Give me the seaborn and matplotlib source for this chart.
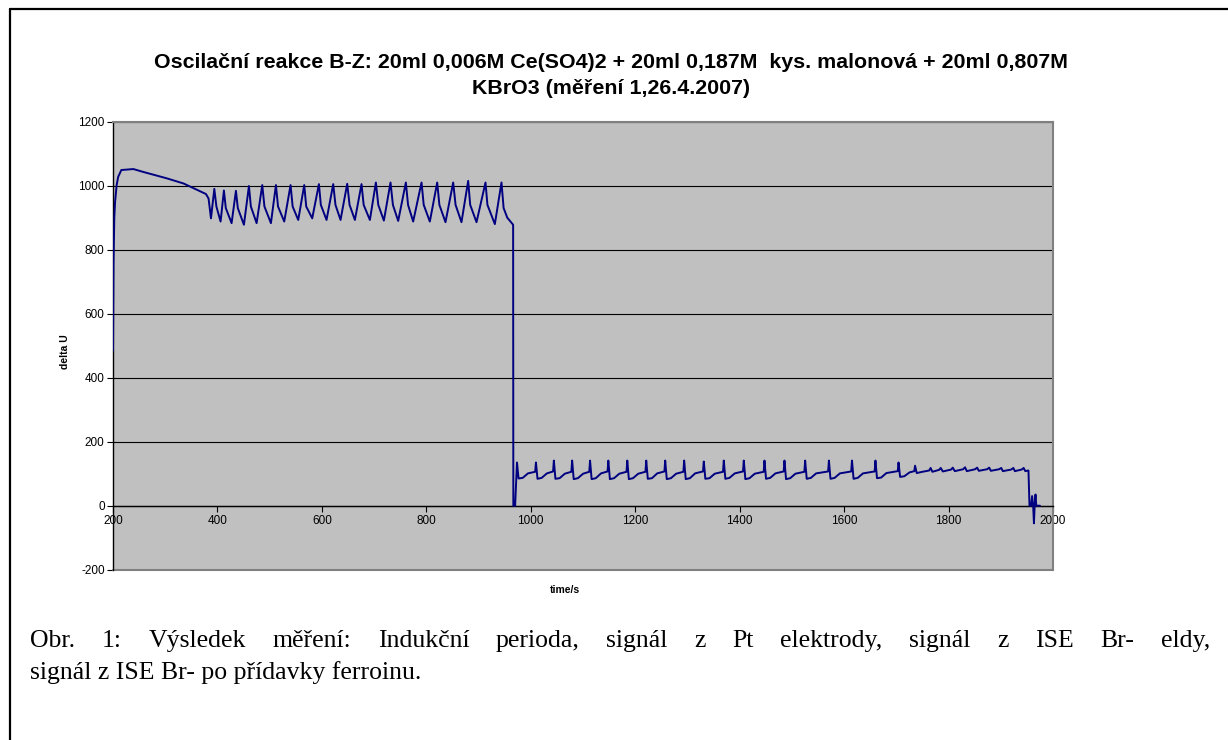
import matplotlib
matplotlib.use("Agg")
import matplotlib.pyplot as plt
import numpy as np
import pandas as pd
import seaborn as sns
from matplotlib.lines import Line2D

# ---------------- data ----------------
# induction period (Pt electrode)
induction_t = [200, 201, 202.5, 204, 207, 210, 216, 239, 258, 303, 335, 378, 383]
induction_u = [485, 760, 900, 950, 1002, 1028, 1049, 1052, 1043, 1023, 1007, 974, 960]

# Pt electrode oscillations: trough, peak, knee per cycle
pt_osc_t = [387.6, 394.0, 398, 406.0, 412.4, 416, 427.1, 435.4, 439, 450.7, 460.3, 464,
            475.0, 485.8, 490, 502.4, 512.0, 516, 527.9, 540.0, 544, 554.7, 566.2, 570,
            581.5, 594.3, 598, 608.9, 621.7, 626, 635.7, 648.5, 653, 663.2, 675.9, 680,
            691.9, 703.4, 708, 718.7, 731.4, 736, 746.1, 760.8, 765, 774.8, 790.8, 795,
            806.7, 820.8, 825, 836.7, 851.4, 856, 867.3, 880.1, 884, 896.1, 913.3, 917,
            931.2, 943.9, 948, 955, 966.2]
pt_osc_u = [898, 990, 935, 888, 985, 930, 883, 984, 930, 878, 999, 935,
            883, 1002, 935, 883, 1002, 935, 888, 1002, 935, 893, 1002, 935,
            898, 1005, 940, 893, 1005, 940, 893, 1006, 940, 893, 1005, 940,
            893, 1010, 940, 891, 1010, 940, 890, 1010, 940, 888, 1010, 940,
            888, 1010, 940, 886, 1010, 940, 886, 1015, 940, 886, 1010, 940,
            880, 1010, 930, 900, 878]

# drop after switching to the ISE Br- electrode
switch_t = [966.6, 970]
switch_u = [0, 0]

# ISE Br- oscillations
br_osc_t = [973.6, 976.6, 984.6, 994.6, 1008.4,
            1009.9, 1012.9, 1020.9, 1030.9, 1042.7,
            1044.2, 1047.2, 1055.2, 1065.2, 1077.7,
            1079.2, 1082.2, 1090.2, 1100.2, 1112.0,
            1113.5, 1116.5, 1124.5, 1134.5, 1147.0,
            1148.5, 1151.5, 1159.5, 1169.5, 1183.3,
            1184.8, 1187.8, 1195.8, 1205.8, 1219.6,
            1221.1, 1224.1, 1232.1, 1242.1, 1255.9,
            1257.4, 1260.4, 1268.4, 1278.4, 1292.2,
            1293.7, 1296.7, 1304.7, 1314.7, 1329.8,
            1331.3, 1334.3, 1342.3, 1352.3, 1368.1,
            1369.6, 1372.6, 1380.6, 1390.6, 1406.4,
            1407.9, 1410.9, 1418.9, 1428.9, 1446.0,
            1447.5, 1450.5, 1458.5, 1468.5, 1484.3,
            1485.8, 1488.8, 1496.8, 1506.8, 1523.9,
            1525.4, 1528.4, 1536.4, 1546.4, 1569.4,
            1570.9, 1573.9, 1581.9, 1591.9, 1613.6,
            1615.1, 1618.1, 1626.1, 1636.1, 1658.5,
            1660.0, 1663.0, 1671.0, 1681.0, 1702.7,
            1704.2, 1707.2, 1715.2, 1725.2, 1734.4,
            1735.9, 1739.0, 1750.0, 1763.0]
br_osc_u = [135, 85, 87, 101, 106,
            135, 84, 87, 101, 107,
            141, 84, 86, 100, 106,
            141, 83, 86, 100, 106,
            141, 83, 86, 101, 107,
            141, 83, 86, 100, 106,
            141, 83, 86, 100, 106,
            141, 84, 86, 101, 107,
            141, 83, 86, 100, 106,
            141, 83, 86, 101, 107,
            138, 84, 86, 100, 106,
            141, 84, 87, 101, 107,
            141, 83, 86, 100, 106,
            141, 84, 87, 101, 107,
            141, 83, 86, 100, 106,
            141, 84, 87, 101, 107,
            141, 84, 87, 101, 107,
            141, 84, 87, 101, 107,
            141, 86, 88, 102, 108,
            135, 90, 92, 104, 108,
            125, 102, 106, 110]

# damped ripples and end after ferroin addition
ferroin_t = [1765.6, 1769, 1782, 1785, 1789, 1805, 1808, 1812, 1828, 1831.6, 1835,
             1851, 1854.7, 1858, 1874, 1877.8, 1881, 1897, 1900.9, 1904, 1920, 1924,
             1927, 1940, 1943.8, 1947, 1953, 1955, 1958, 1960, 1962, 1963.5, 1965,
             1966.5, 1968, 1975]
ferroin_u = [118, 106, 112, 118, 107, 113, 119, 108, 114, 120, 108,
             114, 119, 109, 114, 119, 109, 114, 118, 108, 113, 118,
             108, 113, 118, 108, 110, 0, 0, 30, 0, -55, 5,
             35, 0, 0]

x_ticks = [200, 400, 600, 800, 1000, 1200, 1400, 1600, 1800, 2000]
y_ticks = [-200, 0, 200, 400, 600, 800, 1000, 1200]

title_1 = "Oscilační reakce B-Z: 20ml 0,006M Ce(SO4)2 + 20ml 0,187M  kys. malonová + 20ml 0,807M"
title_2 = "KBrO3 (měření 1,26.4.2007)"
x_label = "time/s"
y_label = "delta U"
caption_1 = "Obr. 1: Výsledek měření: Indukční perioda, signál z Pt elektrody, signál z ISE Br- eldy,"
caption_2 = "signál z ISE Br- po přídavky ferroinu."

# ---------------- figure ----------------
sns.set_theme(style="white")
plt.rcParams["font.family"] = ["Liberation Sans", "DejaVu Sans"]
plt.rcParams["axes.unicode_minus"] = False
plt.rcParams["text.color"] = "black"

W, H = 1228, 740
fig = plt.figure(figsize=(W / 100, H / 100), dpi=100)
fig.patch.set_facecolor("white")

def fx(px):
    return px / W

def fy(py):
    return 1 - py / H

left, right, top, bottom = 113, 1053, 121.7, 569.7
ax = fig.add_axes([fx(left), fy(bottom), (right - left) / W, (bottom - top) / H])
ax.set_facecolor("#C0C0C0")

t_all = induction_t + pt_osc_t + switch_t + br_osc_t + ferroin_t
u_all = induction_u + pt_osc_u + switch_u + br_osc_u + ferroin_u
df = pd.DataFrame({"time": t_all, "u": u_all})
sns.lineplot(data=df, x="time", y="u", sort=False, estimator=None,
             color="#000080", linewidth=1.4, ax=ax, zorder=5)

ax.set_xlim(200, 2000)
ax.set_ylim(-200, 1200)
ax.set_xticks(x_ticks)
ax.set_yticks(y_ticks)
ax.set_xticklabels([str(v) for v in x_ticks])
ax.set_yticklabels([str(v) for v in y_ticks])
ax.set_xlabel("")
ax.set_ylabel("")

ax.yaxis.grid(True, color="black", linewidth=0.8)
ax.xaxis.grid(False)
ax.set_axisbelow(True)

for s in ["top", "right"]:
    ax.spines[s].set_color("#808080")
    ax.spines[s].set_linewidth(1.5)
ax.spines["left"].set_color("black")
ax.spines["left"].set_linewidth(1.0)
ax.spines["bottom"].set_position(("data", 0))
ax.spines["bottom"].set_color("black")
ax.spines["bottom"].set_linewidth(1.0)
ax.plot([200, 2000], [-200, -200], color="#808080", linewidth=1.5,
        clip_on=False, zorder=1)

ax.tick_params(axis="both", which="both", direction="out", length=4, width=0.8,
               color="black", labelsize=8.5, labelcolor="black", pad=2)
ax.tick_params(axis="x", bottom=True, pad=3)
ax.tick_params(axis="y", left=True)

# titles and labels
fig.text(fx(611), fy(62), title_1, ha="center", va="center", fontsize=15.4,
         fontweight="bold", color="black")
fig.text(fx(611), fy(88), title_2, ha="center", va="center", fontsize=15.4,
         fontweight="bold", color="black")
fig.text(fx(565), fy(590), x_label, ha="center", va="center", fontsize=7.5,
         fontweight="bold", color="black")
fig.text(fx(65), fy(352), y_label, ha="center", va="center", fontsize=7.5,
         fontweight="bold", rotation=90, color="black")

# caption: first line justified between x=30 and x=1210
serif = ["Liberation Serif", "DejaVu Serif"]
cap_size = 18.5
fig.canvas.draw()
renderer = fig.canvas.get_renderer()
words = caption_1.split(" ")
word_texts = [fig.text(0, fy(641), w, ha="left", va="center", fontsize=cap_size,
                       family=serif, color="black") for w in words]
widths = [t.get_window_extent(renderer).width for t in word_texts]
gap = (1210 - 30 - sum(widths)) / (len(words) - 1)
xpos = 30.0
for t, w in zip(word_texts, widths):
    t.set_x(fx(xpos))
    xpos += w + gap
fig.text(fx(30), fy(673), caption_2, ha="left", va="center", fontsize=cap_size,
         family=serif, color="black")

# outer frame (left and top visible)
fig.add_artist(Line2D([fx(9.5), fx(9.5)], [fy(8.5), fy(745)], color="black",
                      linewidth=1.6, transform=fig.transFigure))
fig.add_artist(Line2D([fx(9.5), fx(1235)], [fy(8.5), fy(8.5)], color="black",
                      linewidth=1.6, transform=fig.transFigure))

fig.savefig("out.png", dpi=100, facecolor="white")
